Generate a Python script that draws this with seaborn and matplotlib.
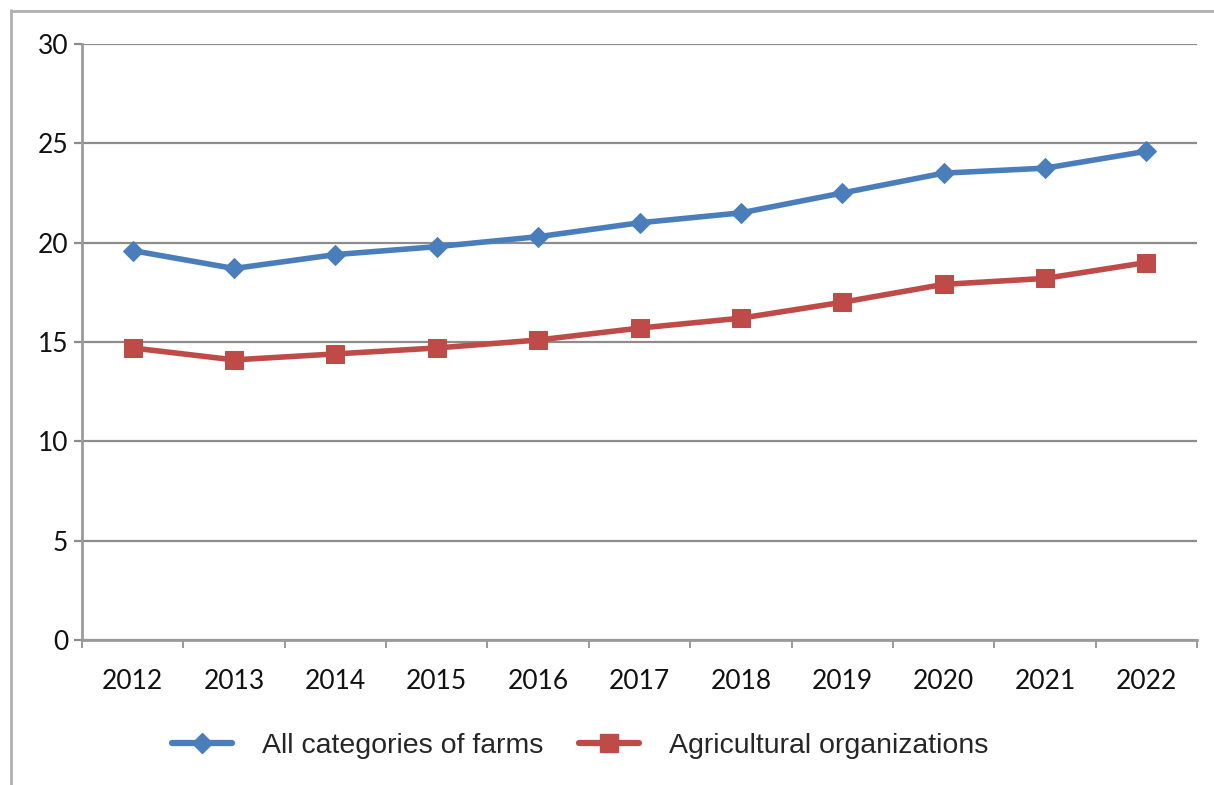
import matplotlib
matplotlib.use("Agg")
import matplotlib.pyplot as plt
from matplotlib.lines import Line2D
import seaborn as sns
import pandas as pd

years = ["2012", "2013", "2014", "2015", "2016", "2017", "2018", "2019", "2020", "2021", "2022"]
all_farms = [19.6, 18.7, 19.4, 19.8, 20.3, 21.0, 21.5, 22.5, 23.5, 23.75, 24.6]
agri_orgs = [14.7, 14.1, 14.4, 14.7, 15.1, 15.7, 16.2, 17.0, 17.9, 18.2, 19.0]
series_names = ["All categories of farms", "Agricultural organizations"]
y_ticks = [0, 5, 10, 15, 20, 25, 30]

sns.set_theme(style="white")
plt.rcParams["font.family"] = ["Lato", "DejaVu Sans"]

W, H = 1214, 785
fig = plt.figure(figsize=(W / 100, H / 100), dpi=100)
fig.patch.set_facecolor("white")
ax = fig.add_axes([82 / W, 1 - 640 / H, (1197 - 82) / W, (640 - 44) / H])

blue = "#4A7EBB"
red = "#BE4B48"
grid_c = "#8C8C8C"

df = pd.DataFrame({"year": years, series_names[0]: all_farms, series_names[1]: agri_orgs})

sns.lineplot(data=df, x="year", y=series_names[0], ax=ax, color=blue, lw=4,
             marker="D", markersize=10.5, markeredgecolor=blue, markerfacecolor=blue,
             label=series_names[0], sort=False)
sns.lineplot(data=df, x="year", y=series_names[1], ax=ax, color=red, lw=4,
             marker="s", markersize=13, markeredgecolor=red, markerfacecolor=red,
             label=series_names[1], sort=False)

ax.set_xlim(-0.5, len(years) - 0.5)
ax.set_ylim(0, 30)
ax.set_yticks(y_ticks)
ax.set_xlabel("")
ax.set_ylabel("")

# horizontal gridlines
ax.yaxis.grid(True, color=grid_c, lw=1.6)
ax.xaxis.grid(False)
ax.set_axisbelow(True)

for side in ["top", "right"]:
    ax.spines[side].set_visible(False)
for side in ["left", "bottom"]:
    ax.spines[side].set_color("#9A9A9A")
    ax.spines[side].set_linewidth(2)

ax.tick_params(axis="y", which="major", direction="out", length=6, width=1.6,
               color=grid_c, labelsize=19, labelcolor="#111111", pad=4, left=True)
ax.tick_params(axis="x", which="major", length=0, labelsize=19,
               labelcolor="#111111", pad=21, bottom=True)
# category boundary tick marks
ax.set_xticks([i - 0.5 for i in range(len(years) + 1)], minor=True)
ax.tick_params(axis="x", which="minor", direction="out", length=6, width=1.4,
               color="#9A9A9A", bottom=True)

ax.get_legend().remove()
handles = [
    Line2D([], [], color=blue, lw=4.5, marker="D", markersize=10.5, markeredgecolor=blue),
    Line2D([], [], color=red, lw=4.5, marker="s", markersize=13, markeredgecolor=red),
]
fig.legend(handles, series_names, loc="center", bbox_to_anchor=(0.478, 1 - 746 / H),
           ncol=2, frameon=False, handlelength=2.1, handletextpad=1.05,
           columnspacing=1.25, prop={"family": "Liberation Sans", "size": 20.5})

# outer chart frame (left and top edges)
fig.add_artist(Line2D([11 / W, 11 / W], [0, 1 - 10 / H], transform=fig.transFigure,
                      color="#B0B0B0", lw=2))
fig.add_artist(Line2D([11 / W, 1], [1 - 11 / H, 1 - 11 / H], transform=fig.transFigure,
                      color="#B0B0B0", lw=2))

fig.savefig("out.png", dpi=100, facecolor="white")
